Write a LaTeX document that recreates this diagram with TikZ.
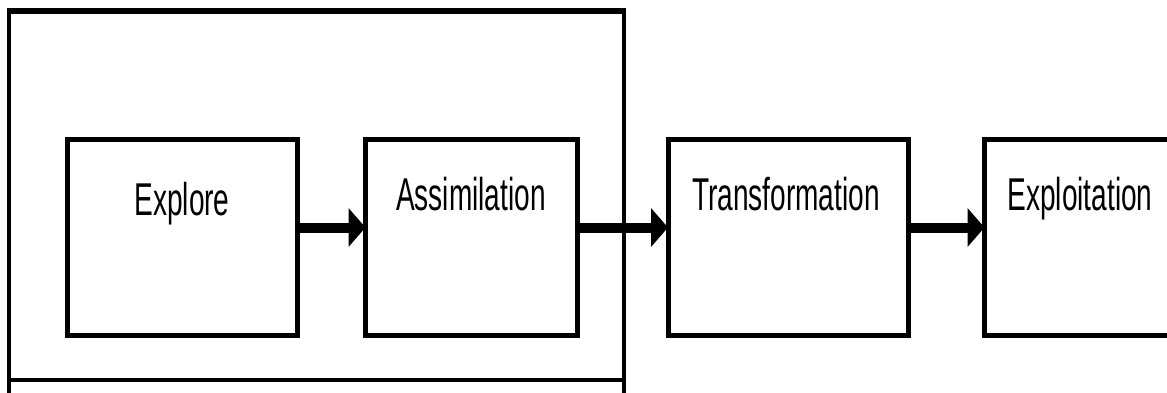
\documentclass[tikz,border=0pt]{standalone}
\usepackage{fontspec}
\setmainfont{Liberation Sans}
\usetikzlibrary{arrows.meta}
\tikzset{
  stagebox/.style={draw=black, line width=5pt, fill=white, inner sep=0pt, outer sep=0pt},
  lbl/.style={inner sep=0pt, anchor=base, font=\fontsize{46}{50}\selectfont},
  flow/.style={line width=10pt, -{Triangle[length=17pt,width=38pt]}},
}
\newcommand{\narrowtxt}[1]{\scalebox{0.61}[1]{#1}}
\begin{document}
\begin{tikzpicture}[x=1pt,y=-1pt]
\useasboundingbox (0,0) rectangle (1167,393);
\clip (0,0) rectangle (1167,393);
% lower (cut-off) box
\draw[line width=4pt] (9,380) rectangle (624,420);
% outer group box
\draw[line width=4pt] (9,12) rectangle (624,380);
\draw[line width=6pt] (7,11) -- (626,11);
% stages
\node[stagebox, minimum width=229.5pt, minimum height=196pt] (ex) at (182.25,237.5) {};
\node[stagebox, minimum width=212pt, minimum height=196pt] (as) at (471.5,237.5) {};
\node[stagebox, minimum width=240pt, minimum height=196pt] (tr) at (788,237.5) {};
\node[stagebox, minimum width=240pt, minimum height=196pt] (ep) at (1104.5,237.5) {};
% labels
\node[lbl] (tex) at (182,215) {\narrowtxt{Explore}};
\node[lbl] (tas) at (471,210) {\narrowtxt{Assimilation}};
\node[lbl] (ttr) at (786,210) {\narrowtxt{Transformation}};
\node[lbl] (tep) at (1080,210) {\narrowtxt{Exploitation}};
% arrows
\draw[flow] ([yshift=10pt]ex.east) -- ([yshift=10pt]as.west);
\draw[flow] ([yshift=10pt]as.east) -- ([yshift=10pt]tr.west);
\draw[flow] ([yshift=10pt]tr.east) -- ([yshift=10pt]ep.west);
\end{tikzpicture}
\end{document}
